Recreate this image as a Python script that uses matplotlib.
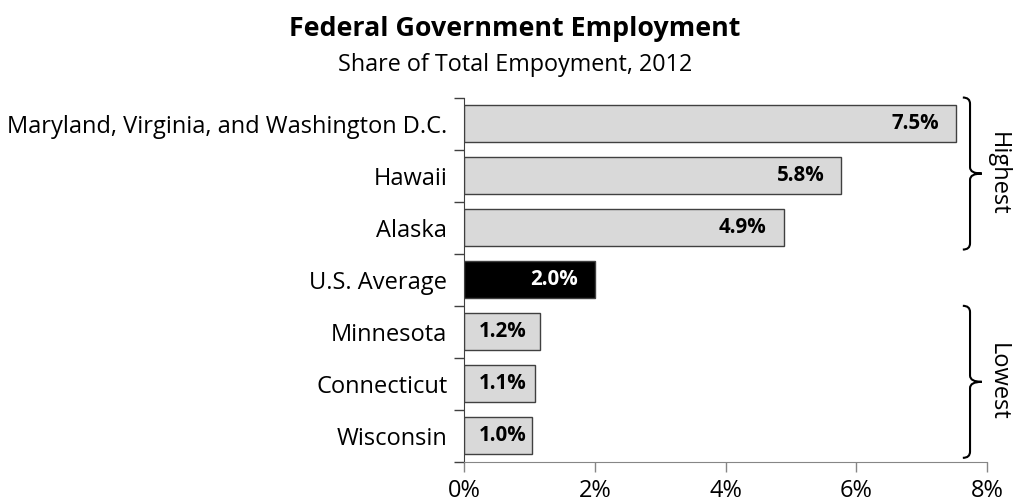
import matplotlib
matplotlib.use("Agg")
import matplotlib.pyplot as plt
from matplotlib.path import Path
from matplotlib.patches import PathPatch

plt.rcParams['font.family'] = ['Open Sans', 'DejaVu Sans']

# data
states = ['Maryland, Virginia, and Washington D.C.', 'Hawaii', 'Alaska',
          'U.S. Average', 'Minnesota', 'Connecticut', 'Wisconsin']
share = [7.52, 5.77, 4.89, 2.0, 1.16, 1.09, 1.04]
colors = ['#d9d9d9', '#d9d9d9', '#d9d9d9', '#000000', '#d9d9d9', '#d9d9d9', '#d9d9d9']
label_colors = ['black', 'black', 'black', 'white', 'black', 'black', 'black']
xticks = [0, 2, 4, 6, 8]
groups = [('Highest', 0, 2), ('Lowest', 4, 6)]

fig = plt.figure(figsize=(10.14, 5.04), dpi=100)
ax = fig.add_axes([0.4576, 0.0833, 0.5158, 0.7232])

y = list(range(len(states)))
ax.barh(y, share, height=0.71, color=colors, edgecolor='#404040', linewidth=1)

# value labels inside the bar end
for yi, v, c in zip(y, share, label_colors):
    ax.text(max(v - 0.26, 0.96), yi, f'{v:.1f}%', ha='right', va='center',
            fontsize=14.8, fontweight='bold', color=c)

ax.set_ylim(len(states) - 0.5, -0.5)
ax.set_xlim(0, 8)

ax.set_yticks(y)
ax.set_yticklabels(states, fontsize=17)
ax.set_yticks([i - 0.5 for i in range(len(states) + 1)], minor=True)
ax.tick_params(axis='y', which='major', length=0, pad=12)
ax.tick_params(axis='y', which='minor', length=7, width=1, color='#404040')

ax.set_xticks(xticks)
ax.set_xticklabels([f'{t}%' for t in xticks], fontsize=17)
ax.tick_params(axis='x', length=7, width=1, color='#868686', pad=5)

for s in ['top', 'right']:
    ax.spines[s].set_visible(False)
ax.spines['left'].set_color('#404040')
ax.spines['bottom'].set_color('#868686')


def brace(ax, y0, y1, x0=7.63, x1=7.74, x2=7.92, r=0.12):
    ym = (y0 + y1) / 2
    verts = [(x0, y0), (x1, y0), (x1, y0 + r),
             (x1, ym - r),
             (x1, ym), (x2, ym),
             (x1, ym), (x1, ym + r),
             (x1, y1 - r),
             (x1, y1), (x0, y1)]
    codes = [Path.MOVETO, Path.CURVE3, Path.CURVE3,
             Path.LINETO,
             Path.CURVE3, Path.CURVE3,
             Path.CURVE3, Path.CURVE3,
             Path.LINETO,
             Path.CURVE3, Path.CURVE3]
    ax.add_patch(PathPatch(Path(verts, codes), fill=False, lw=1.5,
                           edgecolor='black', clip_on=False))
    return ym


for name, i0, i1 in groups:
    ym = brace(ax, i0 - 0.5, i1 + 0.42)
    ax.text(8.16, ym, name, rotation=-90, ha='center', va='center',
            fontsize=17, clip_on=False)

fig.text(0.508, 0.928, 'Federal Government Employment', ha='center',
         va='baseline', fontsize=19.3, fontweight='bold')
fig.text(0.508, 0.859, 'Share of Total Empoyment, 2012', ha='center',
         va='baseline', fontsize=16.8)

fig.savefig('out.png', dpi=100)
